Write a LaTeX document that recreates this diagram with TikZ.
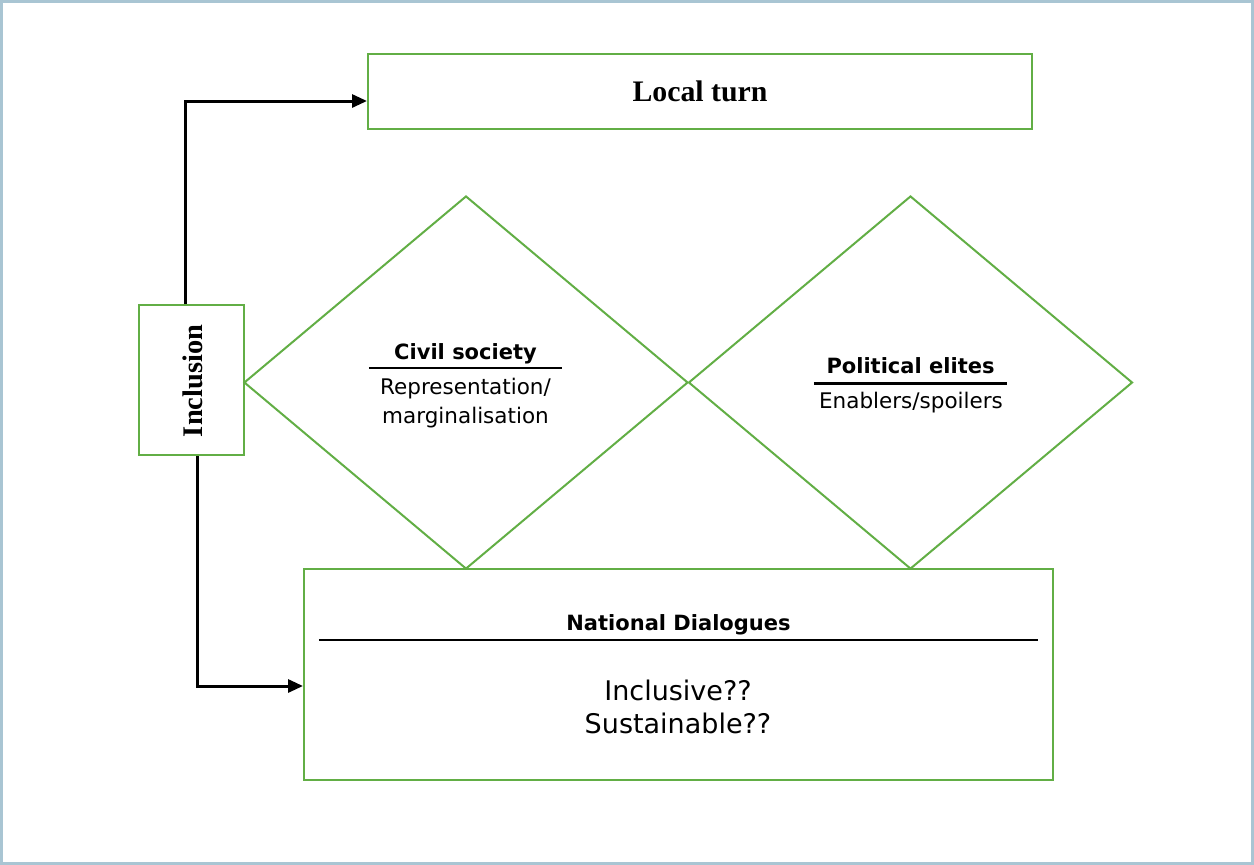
\documentclass[tikz,border=0pt]{standalone}
\usepackage{fontspec}
\setmainfont{Liberation Serif}
\setsansfont{DejaVu Sans}
\usepackage{tikz}
\usetikzlibrary{positioning,arrows.meta,shapes.geometric}
\usepackage{xcolor}
\definecolor{framecolor}{HTML}{A9C5D3}
\definecolor{boxgreen}{HTML}{62AE45}

\tikzset{
    greenbox/.style={draw=boxgreen, line width=2pt, rectangle, inner sep=0pt},
    greendiamond/.style={draw=boxgreen, line width=2pt, diamond, inner sep=0pt},
    flowarrow/.style={line width=3pt, -{Triangle[length=15pt,width=13pt]}},
    rulebar/.style={line width=2.2pt},
    headtext/.style={font=\fontsize{21}{25}\selectfont\sffamily\bfseries, inner sep=0pt},
    subtext/.style={font=\fontsize{21.5}{29}\selectfont\sffamily, inner sep=0pt, align=center},
    bigtext/.style={font=\fontsize{27}{33}\selectfont\sffamily, inner sep=0pt, align=center}
}

\begin{document}
\begin{tikzpicture}[x=1pt, y=-1pt]
    \useasboundingbox (0,0) rectangle (1254,865);
    % Outer frame
    \draw[framecolor, line width=2.5pt] (1.25,1.25) rectangle (1252.5,863.5);

    % Boxes
    \node[greenbox, minimum width=664pt, minimum height=75pt,
          font=\fontsize{29.8}{36}\selectfont\bfseries] (local) at (700,91.5) {Local turn};
    \node[greenbox, minimum width=105pt, minimum height=150pt] (incl) at (191.5,380) {};
    \node[rotate=90, anchor=base, inner sep=0pt, font=\fontsize{28.4}{34}\selectfont\bfseries]
        (incltext) at ([xshift=11pt, yshift=-1pt]incl.center) {Inclusion};
    \node[greenbox, minimum width=749pt, minimum height=211pt] (natdial) at (678.5,674.5) {};

    % Diamonds
    \node[greendiamond, minimum width=444pt, minimum height=373pt] (civil) at (466,382.5) {};
    \node[greendiamond, minimum width=444pt, minimum height=373pt] (political) at (910.5,382.5) {};

    % Civil society
    \node[headtext, minimum width=193pt, text depth=8.4pt, anchor=base] (cstitle) at (465.5,359.3) {Civil society};
    \draw[rulebar] (cstitle.south west) -- (cstitle.south east);
    \node[subtext] (cstext) at (465.5,403) {Representation/\\marginalisation};

    % Political elites
    \node[headtext, minimum width=193pt, text depth=10pt, anchor=base] (petitle) at (910.5,373.3) {Political elites};
    \draw[rulebar] (petitle.south west) -- (petitle.south east);
    \node[subtext, anchor=base] (petext) at (911,408) {Enablers/spoilers};

    % National Dialogues
    \node[headtext, minimum width=719pt, text depth=9.3pt, anchor=base] (ndtitle) at (678.5,630.7) {National Dialogues};
    \draw[rulebar] (ndtitle.south west) -- (ndtitle.south east);
    \node[bigtext] (ndtext) at (678,706.5) {Inclusive??\\Sustainable??};

    % Arrows
    \draw[flowarrow] ([xshift=-6.5pt]incl.north) |- ([yshift=-9.5pt]local.west);
    \draw[flowarrow] ([xshift=5.5pt]incl.south) |- ([yshift=-11.5pt]natdial.west);
\end{tikzpicture}
\end{document}
